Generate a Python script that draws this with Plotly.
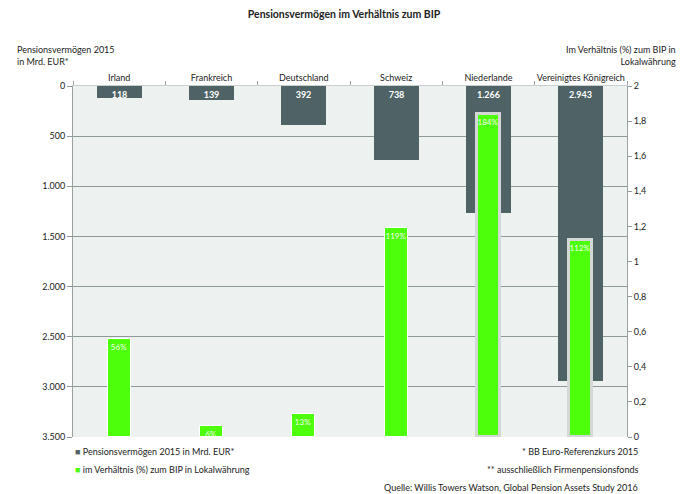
import plotly.graph_objects as go

countries = ["Irland", "Frankreich", "Deutschland", "Schweiz", "Niederlande", "Vereinigtes Königreich"]
assets_bn_eur = [118, 139, 392, 738, 1266, 2943]
ratio_pct = [56, 6, 13, 119, 184, 112]
left_ticks = [0, 500, 1000, 1500, 2000, 2500, 3000, 3500]
right_ticks = [0, 0.2, 0.4, 0.6, 0.8, 1, 1.2, 1.4, 1.6, 1.8, 2]

DARK = "#4F6366"
GREEN = "#4DFF0A"
FONT = "Lato"
TXT = "#222222"

ratio = [v / 100 for v in ratio_pct]
highlight = [False, False, False, False, True, True]

fig = go.Figure()
fig.add_trace(go.Bar(
    x=countries, y=assets_bn_eur, yaxis="y", width=0.49,
    marker=dict(color=DARK, line=dict(width=0)),
    name="Pensionsvermögen 2015 in Mrd. EUR*",
    texttemplate="%{y:,}", textposition="inside", insidetextanchor="start",
    textangle=0,
    textfont=dict(family=FONT, size=9, color="white", weight="bold"),
    constraintext="none", showlegend=False, hoverinfo="skip",
))
fig.add_trace(go.Bar(
    x=countries, y=ratio, yaxis="y2", width=0.25,
    marker=dict(color=GREEN,
                line=dict(color=["#D3D8D7" if h else "white" for h in highlight],
                          width=[3 if h else 1 for h in highlight])),
    name="im Verhältnis (%) zum BIP in Lokalwährung",
    texttemplate="%{y:.0%}", textposition="inside", insidetextanchor="end",
    textangle=0,
    textfont=dict(family=FONT, size=8, color="#F4FFF0", weight="normal"),
    constraintext="none", showlegend=False, hoverinfo="skip",
))

fig.update_layout(
    width=689, height=494,
    margin=dict(l=73, r=62, t=86, b=57),
    paper_bgcolor="white", plot_bgcolor="#EDF1EF",
    separators=",.",
    font=dict(family=FONT, size=9, color=TXT),
    title=dict(text="<b>Pensionsvermögen im Verhältnis zum BIP</b>",
               x=0.4993, xref="container", y=0.97, yref="container",
               xanchor="center", yanchor="middle",
               font=dict(family=FONT, size=10.5, color=TXT)),
    barmode="overlay",
    bargap=0,
    xaxis=dict(side="top", type="category", tickson="boundaries",
               ticks="outside", ticklen=4, tickcolor="#9AA3A3", tickangle=0,
               automargin=False,
               showline=True, linecolor="#C9CFCE", linewidth=1,
               showgrid=False, tickfont=dict(family=FONT, size=9, color=TXT)),
    yaxis=dict(range=[3500, 0], tickvals=left_ticks, tickformat=",d",
               ticks="outside", ticklen=5, tickcolor="#8E9A9A", automargin=False,
               showline=True, linecolor="#9AA3A3", linewidth=1,
               showgrid=True, gridcolor="#8E9A9A", gridwidth=1,
               zeroline=False, tickfont=dict(family=FONT, size=9, color=TXT)),
    yaxis2=dict(range=[0, 2], tickvals=right_ticks, overlaying="y", side="right",
                ticks="outside", ticklen=4, tickcolor="#8E9A9A", automargin=False,
                showline=True, linecolor="#9AA3A3", linewidth=1,
                showgrid=False, zeroline=False,
                tickfont=dict(family=FONT, size=9, color=TXT)),
)

ann = [
    dict(text="Pensionsvermögen 2015<br>in Mrd. EUR*", x=-0.1047, y=1.088,
         xanchor="left", yanchor="middle", align="left"),
    dict(text="Im Verhältnis (%) zum BIP in<br>Lokalwährung", x=1.092, y=1.088,
         xanchor="right", yanchor="middle", align="right"),
    dict(text=f"<span style='color:{DARK}'>■</span> Pensionsvermögen 2015 in Mrd. EUR*",
         x=0.0, y=-0.0427, xanchor="left", yanchor="middle", align="left"),
    dict(text=f"<span style='color:{GREEN}'>■</span> im Verhältnis (%) zum BIP in Lokalwährung",
         x=0.0, y=-0.094, xanchor="left", yanchor="middle", align="left"),
    dict(text="* BB Euro-Referenzkurs 2015", x=1.0235, y=-0.0427,
         xanchor="right", yanchor="middle", align="right"),
    dict(text="** ausschließlich Firmenpensionsfonds", x=1.0235, y=-0.094,
         xanchor="right", yanchor="middle", align="right"),
    dict(text="Quelle: Willis Towers Watson, Global Pension Assets Study 2016", x=1.0235, y=-0.145,
         xanchor="right", yanchor="middle", align="right"),
]
for a in ann:
    fig.add_annotation(xref="paper", yref="paper", showarrow=False,
                       font=dict(family=FONT, size=9, color=TXT), **a)

fig.write_html("out.html", config={"displayModeBar": False},
               post_script="document.body.style.margin='0';")
